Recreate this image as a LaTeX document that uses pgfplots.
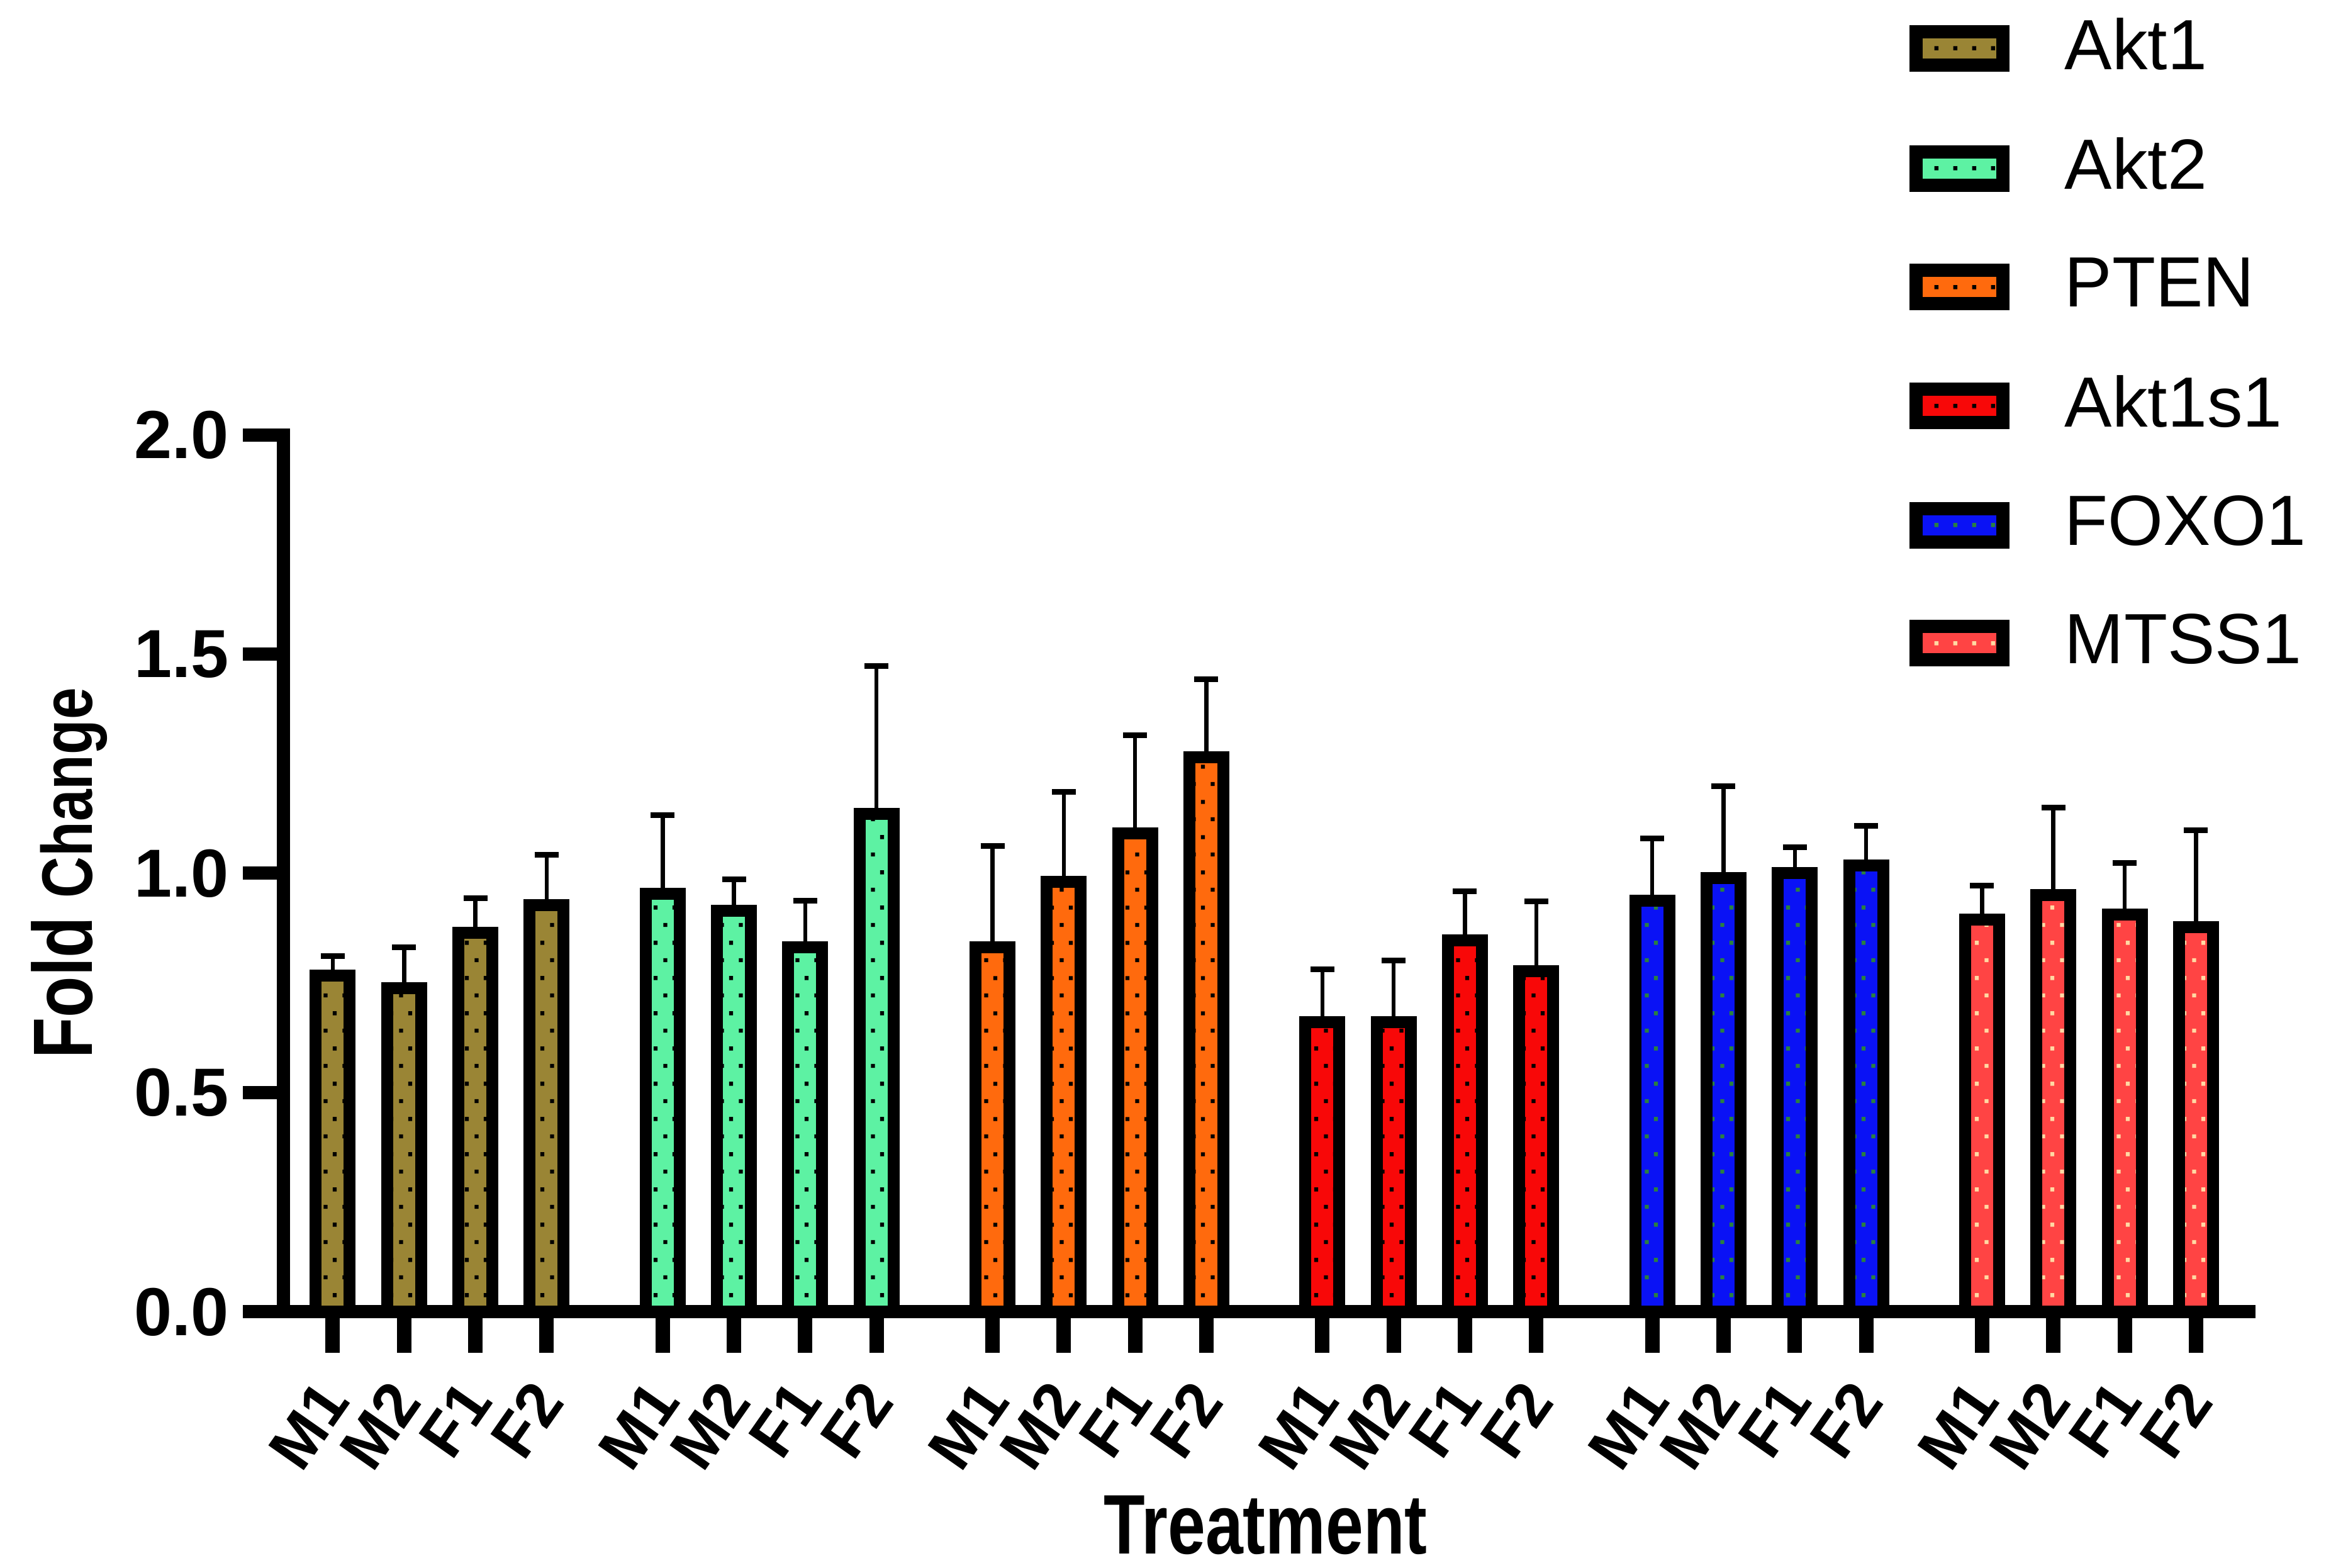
\documentclass[border=0pt]{standalone}
\usepackage{fontspec}
\setmainfont{Liberation Sans}
\usepackage{graphicx}
\usepackage{pgfplots}
\pgfplotsset{compat=1.18}
\usetikzlibrary{patterns}

\pgfdeclarepatternformonly{gpdots}{\pgfqpoint{0pt}{0pt}}{\pgfqpoint{3pt}{5.6pt}}{\pgfqpoint{3pt}{5.6pt}}{%
  \pgfpathrectangle{\pgfqpoint{0.45pt}{1.1pt}}{\pgfqpoint{0.65pt}{0.65pt}}%
  \pgfpathrectangle{\pgfqpoint{1.95pt}{3.9pt}}{\pgfqpoint{0.65pt}{0.65pt}}%
  \pgfusepath{fill}}

\definecolor{cAkt1}{HTML}{9A8535}
\definecolor{cAkt2}{HTML}{5DF2A3}
\definecolor{cPTEN}{HTML}{FF6A0D}
\definecolor{cAktS}{HTML}{F80808}
\definecolor{cFOXO}{HTML}{0A12F5}
\definecolor{cFOXOdot}{HTML}{2A8040}
\definecolor{cMTSS}{HTML}{FF4444}
\definecolor{cMTSSdot}{HTML}{FFD9A3}

\pgfplotsset{
  gpbar/.style 2 args={ybar, bar width=5.4pt, bar shift=0pt, draw=black, line width=1.9pt,
    preaction={fill=#1}, preaction={pattern=gpdots, pattern color=#2},
    legend image code/.code={%
      \pgfsetlinewidth{2.1pt}\pgfsetstrokecolor{black}\pgfsetfillcolor{#1}%
      \pgfpathrectangle{\pgfpoint{1.05pt}{-2.65pt}}{\pgfpoint{13.8pt}{5.3pt}}%
      \pgfusepath{fill,stroke}%
      \pgfsetfillcolor{#2}%
      \pgfpathrectangle{\pgfpoint{3.98pt}{-0.32pt}}{\pgfpoint{0.65pt}{0.65pt}}%
      \pgfpathrectangle{\pgfpoint{6.98pt}{-0.32pt}}{\pgfpoint{0.65pt}{0.65pt}}%
      \pgfpathrectangle{\pgfpoint{9.98pt}{-0.32pt}}{\pgfpoint{0.65pt}{0.65pt}}%
      \pgfpathrectangle{\pgfpoint{12.98pt}{-0.32pt}}{\pgfpoint{0.65pt}{0.65pt}}%
      \pgfusepath{fill}}},
}

\begin{document}
\begin{tikzpicture}
\useasboundingbox (0,0) rectangle (370.5pt,249.2pt);
\begin{axis}[
  at={(45.1pt,40.7pt)}, anchor=south west,
  scale only axis, width=313.4pt, height=139.4pt,
  xmin=-0.688, xmax=26.97, ymin=0, ymax=2,
  axis x line*=bottom, axis y line*=left,
  axis line style={line width=2.1pt, black},
  y axis line style={line cap=rect},
  tick align=outside, major tick length=6.5pt,
  xtick={0,1,2,3, 4.627,5.627,6.627,7.627, 9.254,10.254,11.254,12.254, 13.881,14.881,15.881,16.881, 18.508,19.508,20.508,21.508, 23.135,24.135,25.135,26.135},
  xticklabels={M1,M2,F1,F2,M1,M2,F1,F2,M1,M2,F1,F2,M1,M2,F1,F2,M1,M2,F1,F2,M1,M2,F1,F2},
  ytick={0,0.5,1,1.5,2},
  xtick style={line width=2.3pt, black},
  ytick style={line width=2.1pt, black},
  /pgf/number format/fixed, /pgf/number format/fixed zerofill,
  /pgf/number format/precision=1, /pgf/number format/assume math mode=true,
  yticklabel style={font=\fontsize{10.8}{12}\selectfont\bfseries, inner sep=0pt, xshift=-2pt},
  xticklabel style={font=\fontsize{10}{11}\selectfont\bfseries, rotate=55, anchor=east, inner sep=0pt, yshift=-3.5pt, xshift=-4.5pt},
  every axis x label/.style={at={(axis description cs:0.498,-0.276)}, anchor=base},
  every axis y label/.style={at={(axis description cs:-0.097,0.5)}, rotate=90, anchor=base},
  xlabel={\scalebox{1}[1.25]{\fontsize{10.75}{12}\selectfont\bfseries Treatment}},
  ylabel={\scalebox{1}[1.25]{\bfseries\fontsize{10.7}{12}\selectfont Fold \fontsize{9.1}{11}\selectfont Change}},
  legend style={at={(0.8245,1.4755)}, anchor=north west, draw=none, fill=none, inner sep=0pt, outer sep=0pt,
    row sep=9.4pt, column sep=8.8pt, font=\fontsize{11.3}{13}\selectfont, nodes={inner sep=0pt}},
  legend cell align=left,
  error bars/y dir=plus, error bars/y explicit,
  error bars/error bar style={line width=0.65pt, black},
  error bars/error mark options={rotate=90, line width=0.9pt, mark size=1.9pt, black},
  clip=false,
]
\addplot[gpbar={cAkt1}{black}] coordinates {(0,0.767) +- (0,0.044) (1,0.738) +- (0,0.094) (2,0.864) +- (0,0.080) (3,0.927) +- (0,0.116)};
\addlegendentry{Akt1}
\addplot[gpbar={cAkt2}{black}] coordinates {(4.627,0.954) +- (0,0.179) (5.627,0.914) +- (0,0.073) (6.627,0.832) +- (0,0.105) (7.627,1.136) +- (0,0.337)};
\addlegendentry{Akt2}
\addplot[gpbar={cPTEN}{black}] coordinates {(9.254,0.831) +- (0,0.231) (10.254,0.980) +- (0,0.206) (11.254,1.091) +- (0,0.224) (12.254,1.265) +- (0,0.177)};
\addlegendentry{PTEN}
\addplot[gpbar={cAktS}{black}] coordinates {(13.881,0.661) +- (0,0.120) (14.881,0.661) +- (0,0.140) (15.881,0.847) +- (0,0.112) (16.881,0.777) +- (0,0.159)};
\addlegendentry{Akt1s1}
\addplot[gpbar={cFOXO}{cFOXOdot}] coordinates {(18.508,0.937) +- (0,0.143) (19.508,0.989) +- (0,0.209) (20.508,1.000) +- (0,0.059) (21.508,1.018) +- (0,0.091)};
\addlegendentry{FOXO1}
\addplot[gpbar={cMTSS}{cMTSSdot}] coordinates {(23.135,0.894) +- (0,0.078) (24.135,0.951) +- (0,0.199) (25.135,0.906) +- (0,0.118) (26.135,0.878) +- (0,0.220)};
\addlegendentry{MTSS1}
\end{axis}
\end{tikzpicture}
\end{document}
